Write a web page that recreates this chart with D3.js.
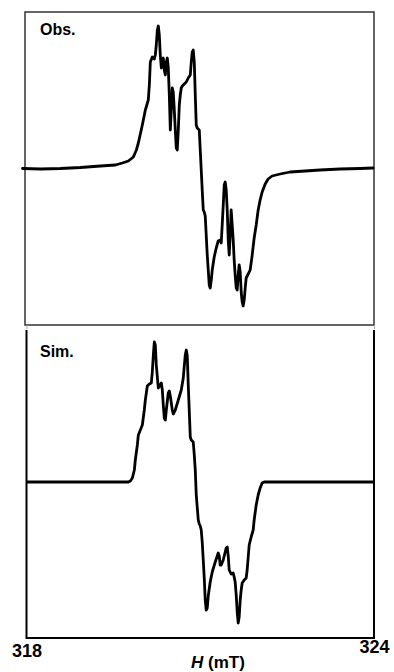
<!DOCTYPE html>
<html>
<head>
<meta charset="utf-8">
<script src="https://cdn.jsdelivr.net/npm/d3@7"></script>
<style>
  html, body { margin: 0; padding: 0; background: #fff; }
  svg { display: block; }
  text { font-family: "Liberation Sans", Arial, sans-serif; }
</style>
</head>
<body>
<svg id="chart" width="394" height="672"></svg>
<script>
// Field axis (mT)
const fieldTicks = [318, 324];
const axisTitle = "H";
const axisUnit = " (mT)";
const panelLabels = ["Obs.", "Sim."];

// Observed spectrum: field (mT) and intensity (arb. units)
const obsField = [317.931,318.241,318.586,318.931,319.276,319.534,319.655,319.759,319.845,319.897,319.931,320.000,320.052,320.103,320.121,320.138,320.172,320.207,320.224,320.241,320.259,320.276,320.293,320.310,320.328,320.345,320.362,320.379,320.397,320.414,320.431,320.448,320.466,320.483,320.500,320.517,320.534,320.552,320.569,320.586,320.603,320.621,320.638,320.655,320.672,320.690,320.724,320.759,320.793,320.828,320.845,320.862,320.879,320.897,320.914,320.931,320.948,320.983,321.000,321.017,321.034,321.052,321.069,321.086,321.103,321.121,321.138,321.155,321.172,321.190,321.207,321.241,321.276,321.310,321.345,321.362,321.379,321.397,321.414,321.431,321.448,321.466,321.483,321.500,321.517,321.534,321.552,321.569,321.586,321.603,321.621,321.638,321.655,321.672,321.690,321.707,321.724,321.741,321.759,321.776,321.793,321.828,321.862,321.897,321.931,321.966,322.000,322.034,322.069,322.121,322.172,322.241,322.379,322.552,322.810,323.069,323.414,323.759,323.983];
const obsIntensity = [-0.5,-1,-0.5,0.5,2,3,5,7,11,18,25,43,58,68,83,106,111,109,113,123,138,142,133,113,100,106,110,98,93,106,110,100,73,38,58,80,76,58,38,20,18,38,63,73,80,82,84,86,90,93,106,116,118,106,73,43,40,38,18,-2,-22,-42,-44,-48,-67,-87,-102,-117,-120,-112,-102,-89,-80,-73,-72,-75,-57,-37,-17,-14,-22,-42,-72,-87,-67,-42,-57,-72,-92,-107,-120,-122,-107,-97,-104,-124,-134,-138,-132,-120,-110,-106,-102,-87,-70,-57,-42,-32,-24,-16,-11,-8,-6,-4,-3,-2,-1,-0.5,0];

// Simulated spectrum
const simField = [318.017,319.759,319.793,319.828,319.862,319.879,319.914,319.931,319.966,320.000,320.034,320.052,320.086,320.121,320.155,320.172,320.190,320.207,320.224,320.241,320.276,320.310,320.328,320.345,320.362,320.379,320.397,320.414,320.448,320.466,320.483,320.517,320.534,320.569,320.621,320.672,320.707,320.741,320.759,320.776,320.793,320.828,320.845,320.879,320.897,320.914,320.931,320.966,320.983,321.000,321.017,321.034,321.052,321.069,321.086,321.103,321.121,321.138,321.172,321.207,321.259,321.310,321.328,321.345,321.362,321.397,321.448,321.466,321.483,321.500,321.534,321.569,321.586,321.603,321.621,321.638,321.655,321.672,321.690,321.707,321.724,321.759,321.793,321.810,321.845,321.879,321.914,321.931,321.966,322.000,322.034,322.069,322.103,323.983];
const simIntensity = [0,0,1,4,12,22,37,47,52,57,72,82,96,98,99,110,127,140,137,117,94,97,99,92,77,64,62,72,89,91,86,72,68,72,82,92,104,127,132,126,97,45,42,40,27,12,-13,-38,-42,-44,-48,-60,-78,-96,-118,-128,-126,-114,-100,-90,-80,-71,-74,-83,-83,-78,-66,-65,-74,-88,-92,-91,-95,-100,-113,-130,-141,-135,-118,-108,-101,-98,-96,-88,-63,-55,-48,-38,-23,-13,-6,-1,0,0];

const svg = d3.select("#chart");

const x = d3.scaleLinear().domain([318, 324]).range([26.5, 374]);

// Panel geometry
const panelTop = { y0: 12, y1: 325 };
const panelBot = { y0: 330, y1: 638 };

const yObs = d3.scaleLinear().domain([-157, 156]).range([panelTop.y1, panelTop.y0]);
const ySim = d3.scaleLinear().domain([-156, 152]).range([panelBot.y1, panelBot.y0]);

// Top panel frame (thin, dark grey)
svg.append("rect")
  .attr("x", 25).attr("y", panelTop.y0)
  .attr("width", 374 - 25).attr("height", panelTop.y1 - panelTop.y0)
  .attr("fill", "none").attr("stroke", "#333").attr("stroke-width", 1.5);

// small ticks under top panel
const topAxis = svg.append("g")
  .attr("transform", `translate(0,${panelTop.y1})`)
  .call(d3.axisBottom(x).tickValues(fieldTicks).tickSize(4).tickFormat(""));
topAxis.select(".domain").remove();
topAxis.selectAll("line").attr("stroke", "#aaa").attr("stroke-width", 1);

// Bottom panel frame (open top, black)
svg.append("path")
  .attr("d", `M26.5,${panelBot.y0}V${panelBot.y1}H374V${panelBot.y0}`)
  .attr("fill", "none").attr("stroke", "#000").attr("stroke-width", 2);

const line = (ys) => d3.line()
  .x(d => x(d[0]))
  .y(d => ys(d[1]))
  .curve(d3.curveLinear);

svg.append("path")
  .datum(d3.zip(obsField, obsIntensity))
  .attr("d", line(yObs))
  .attr("fill", "none").attr("stroke", "#000")
  .attr("stroke-width", 2.8).attr("stroke-linejoin", "round").attr("stroke-linecap", "round");

svg.append("path")
  .datum(d3.zip(simField, simIntensity))
  .attr("d", line(ySim))
  .attr("fill", "none").attr("stroke", "#000")
  .attr("stroke-width", 2.8).attr("stroke-linejoin", "round").attr("stroke-linecap", "round");

// Panel labels
svg.append("text").attr("x", 40).attr("y", 35)
  .attr("font-size", 16).attr("font-weight", "bold").text(panelLabels[0]);
svg.append("text").attr("x", 40).attr("y", 357)
  .attr("font-size", 16).attr("font-weight", "bold").text(panelLabels[1]);

// Bottom axis labels
const ax = svg.append("g")
  .attr("transform", `translate(0,${panelBot.y1})`)
  .call(d3.axisBottom(x).tickValues(fieldTicks).tickSize(0).tickPadding(0).tickFormat(d3.format("d")));
ax.select(".domain").remove();
ax.selectAll("text")
  .attr("font-family", "Liberation Sans, Arial, sans-serif")
  .attr("font-size", 18).attr("font-weight", "bold").attr("fill", "#000")
  .attr("dy", null)
  .attr("y", d => d === 324 ? 15 : 19);

// Axis title
const title = svg.append("text")
  .attr("x", 218).attr("y", 668)
  .attr("text-anchor", "middle")
  .attr("font-size", 17).attr("font-weight", "bold");
title.append("tspan").attr("font-style", "italic").text(axisTitle);
title.append("tspan").text(axisUnit);
</script>
</body>
</html>
